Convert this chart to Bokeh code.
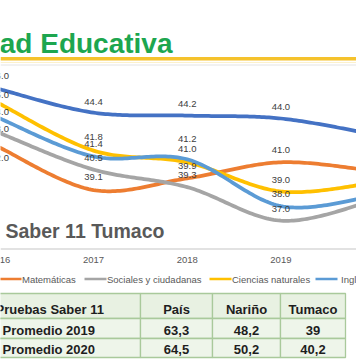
import numpy as np
from bokeh.plotting import figure
from bokeh.models import Range1d
from bokeh.embed import file_html
from bokeh.resources import INLINE
from bokeh.core.properties import value

# ---------------- data ----------------
years = [2016, 2017, 2018, 2019, 2020]
series_names = ["Lectura crítica", "Matemáticas", "Sociales y ciudadanas",
                "Ciencias naturales", "Inglés"]
lectura = [46.0, 44.4, 44.2, 44.0, 42.9]
matematicas = [42.0, 39.1, 39.9, 41.0, 40.4]
sociales = [43.0, 40.5, 39.3, 37.0, 38.4]
ciencias = [45.0, 41.8, 41.0, 39.0, 39.6]
ingles = [44.0, 41.4, 41.2, 38.0, 38.7]
series_colors = ["#4472c4", "#ed7d31", "#a5a5a5", "#ffc000", "#5b9bd5"]

title_text = "Calidad Educativa"
chart_title = "Saber 11 Tumaco"

table_header = ["Pruebas Saber 11", "País", "Nariño", "Tumaco"]
table_rows = ["Promedio 2019", "Promedio 2020"]
promedio_2019 = [63.3, 48.2, 39]
promedio_2020 = [64.5, 50.2, 40.2]

# label offsets (pixels, styling only)
label_dy = [
    [-13, -11, -12, -12],
    [10, -13, -12, -12],
    [-4, -12, -12, -12],
    [-9, -14, -13, -12],
    [-7, -12, -20, -12],
]

FONT = value("Liberation Sans")
W, H = 356, 364
PX_PER_YEAR = 93.7
PX_PER_UNIT = 14.6
X0 = 2016 + 0.7 / PX_PER_YEAR
X1 = X0 + W / PX_PER_YEAR
Y1 = 44.0 + 118 / PX_PER_UNIT
Y0 = 44.0 - (H - 118) / PX_PER_UNIT


def smooth(xs, ys, n=40):
    xs = np.asarray(xs, float)
    ys = np.asarray(ys, float)
    px = np.concatenate([[xs[0]], xs, [xs[-1]]])
    py = np.concatenate([[ys[0]], ys, [ys[-1]]])
    outx, outy = [], []
    t = np.linspace(0, 1, n)
    for i in range(1, len(px) - 2):
        for arr, out in ((px, outx), (py, outy)):
            p0, p1, p2, p3 = arr[i - 1], arr[i], arr[i + 1], arr[i + 2]
            seg = 0.5 * (2 * p1 + (-p0 + p2) * t
                         + (2 * p0 - 5 * p1 + 4 * p2 - p3) * t ** 2
                         + (-p0 + 3 * p1 - 3 * p2 + p3) * t ** 3)
            out.extend(seg.tolist())
    return outx, outy


p = figure(width=W, height=H, x_range=Range1d(X0, X1), y_range=Range1d(Y0, Y1),
           output_backend="svg", toolbar_location=None, min_border=0,
           x_axis_location=None, y_axis_location=None)
p.grid.visible = False
p.outline_line_color = None
p.background_fill_color = "white"
p.border_fill_color = "white"
p.extra_x_ranges = {"px": Range1d(0, W)}
p.extra_y_ranges = {"py": Range1d(H, 0)}
L = dict(x_range_name="px", y_range_name="py")

# header
p.text(x=[172], y=[43], text=[title_text], text_font=value("Liberation Sans"),
       text_font_size="28px", text_font_style="bold", text_color="#1da64f",
       text_align="right", text_baseline="alphabetic", **L)
p.quad(left=[0], right=[W], top=[56.5], bottom=[60], fill_color="#f5c22c",
       line_color=None, **L)
p.segment(x0=[0], y0=[62], x1=[W], y1=[62], line_color="#fcf1cc", line_width=1, **L)
p.segment(x0=[0], y0=[64.5], x1=[W], y1=[64.5], line_color="#e4e4e4", line_width=1, **L)

# chart lines
all_series = [lectura, matematicas, sociales, ciencias, ingles]
for vals, col in zip(all_series, series_colors):
    sx, sy = smooth(years, vals)
    p.line(sx, sy, line_color=col, line_width=3.75, line_cap="round", line_join="round")

# data labels
for vals, dys in zip(all_series, label_dy):
    for yr, v, dy in zip(years, vals, dys):
        if yr <= X1:
            p.text(x=[yr], y=[v], text=[f"{v:.1f}"], text_font=FONT,
                   text_font_size="9.5px", text_color="#404040",
                   text_align="center", text_baseline="middle", y_offset=dy)

# chart title overlay
p.text(x=[5], y=[230], text=[chart_title], text_font=FONT, text_font_size="19.5px",
       text_font_style="bold", text_color="#595959", text_align="left",
       text_baseline="alphabetic", **L)

# axis line + year labels
p.segment(x0=[0], y0=[248.5], x1=[W], y1=[248.5], line_color="#d9d9d9", line_width=1.5, **L)
vis_years = [y for y in years if y <= X1 + 0.2]
p.text(x=vis_years, y=[259.5] * len(vis_years), text=[str(y) for y in vis_years],
       text_font=FONT, text_font_size="9.5px", text_color="#595959",
       text_align="center", text_baseline="middle", y_range_name="py")

# legend (visible part)
leg_x = [-1, 84, 209, 315]
leg_gap = [0.5, 0.5, 0.5, 3.5]
for lx, gap, name, col in zip(leg_x, leg_gap, series_names[1:], series_colors[1:]):
    p.segment(x0=[lx], y0=[278.5], x1=[lx + 22], y1=[278.5], line_color=col,
              line_width=2.5, **L)
    p.text(x=[lx + 22 + gap], y=[278.5], text=[name], text_font=FONT,
           text_font_size="9.5px", text_color="#595959", text_align="left",
           text_baseline="middle", **L)

# table
col_edges = [-10, 140, 212, 280, 345]
row_edges = [293, 318, 338, 357]
row_fill = ["#e8f1e2", "#eef5ea", "#eef5ea"]
for r in range(3):
    p.quad(left=col_edges[:-1], right=col_edges[1:],
           top=[row_edges[r]] * 4, bottom=[row_edges[r + 1]] * 4,
           fill_color=row_fill[r], line_color="#a9c99b", line_width=1.3, **L)

col_centers = [(col_edges[i] + col_edges[i + 1]) / 2 for i in range(1, 4)]
row_centers = [308.5, 329.5, 348.5]
txt = dict(text_font=FONT, text_font_size="13px", text_font_style="bold",
           text_color="#1e1e1e", text_baseline="middle", **L)
p.text(x=[-5], y=[row_centers[0]], text=[table_header[0]], text_align="left", **txt)
p.text(x=col_centers, y=[row_centers[0]] * 3, text=table_header[1:], text_align="center", **txt)


def fmt(v):
    return str(v).replace(".", ",")


for r, (lab, vals) in enumerate(zip(table_rows, [promedio_2019, promedio_2020])):
    p.text(x=[2], y=[row_centers[r + 1]], text=[lab], text_align="left", **txt)
    p.text(x=col_centers, y=[row_centers[r + 1]] * 3, text=[fmt(v) for v in vals],
           text_align="center", **txt)

open("out.html", "w").write(file_html(p, INLINE))
